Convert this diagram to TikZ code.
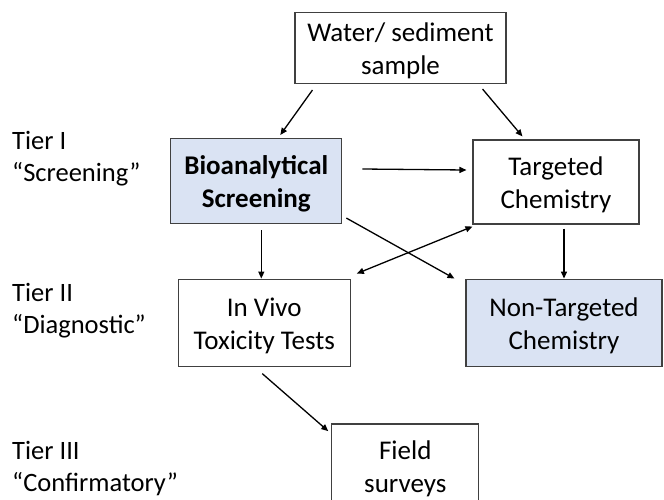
\documentclass[tikz,border=0pt]{standalone}
\usepackage{fontspec}
\setmainfont{Carlito}
\usetikzlibrary{arrows.meta}

\definecolor{boxblue}{HTML}{DAE3F3}
\definecolor{boxline}{HTML}{404040}

\begin{document}
\begin{tikzpicture}[x=1pt, y=-1pt,
    box/.style={draw=boxline, line width=1.1pt, align=center, inner sep=0pt,
        text height=53pt, text depth=0pt, font=\fontsize{27}{33}\selectfont},
    tier/.style={anchor=base west, align=left, inner sep=0pt,
        font=\fontsize{26.5}{32}\selectfont},
    flow/.style={-{Triangle[length=7pt, width=6pt]}, line width=1.3pt}]
    \clip (0,0) rectangle (664,499);

    % Tier labels on the left
    \node[tier] (tier1) at (12,181) {Tier I\\“Screening”};
    \node[tier] (tier2) at (12,333) {Tier II\\“Diagnostic”};
    \node[tier] (tier3) at (12,491.5) {Tier III\\“Confirmatory”};

    % Boxes of the scheme
    \node[box, minimum width=211pt, minimum height=71pt] (water) at (400.5,48) {Water/ sediment\\sample};
    \node[box, fill=boxblue, font=\fontsize{27}{33}\selectfont\bfseries,
        minimum width=171pt, minimum height=85pt] (bio) at (256.3,181) {Bioanalytical\\Screening};
    \node[box, minimum width=166pt, minimum height=84pt] (targ) at (556,182) {Targeted\\Chemistry};
    \node[box, minimum width=172pt, minimum height=87pt] (vivo) at (264.3,322.6) {In Vivo\\Toxicity Tests};
    \node[box, fill=boxblue, minimum width=196pt, minimum height=87pt] (nontarg) at (564,322.6) {Non-Targeted\\Chemistry};
    \node[box, minimum width=147pt, minimum height=84pt] (field) at (405.3,466) {Field\\surveys};

    % Arrows from the sample
    \draw[flow] ([xshift=18pt, yshift=-6pt]water.south west) -- ([xshift=24pt, yshift=3pt]bio.north);
    \draw[flow] ([xshift=-24pt, yshift=-5pt]water.south east) -- ([xshift=50pt, yshift=3pt]targ.north west);

    % Arrows of tier I
    \draw[flow] ([xshift=20pt, yshift=12pt]bio.east) -- ([xshift=-6pt, yshift=12pt]targ.west);
    \draw[flow] ([xshift=5pt, yshift=-6pt]bio.south) -- ([xshift=-3pt]vivo.north);
    \draw[flow] ([xshift=4pt, yshift=6pt]bio.south east) -- ([xshift=-11pt]nontarg.north west);
    \draw[flow, {Triangle[length=7pt, width=6pt]}-{Triangle[length=7pt, width=6pt]}] ([yshift=-2pt]targ.south west) -- ([xshift=6pt, yshift=5pt]vivo.north east);
    \draw[flow] ([xshift=8pt, yshift=-4pt]targ.south) -- (nontarg.north);

    % Arrow to tier III
    \draw[flow] ([xshift=-2pt, yshift=-7pt]vivo.south) -- ([xshift=-3pt, yshift=-7.7pt]field.north west);
\end{tikzpicture}
\end{document}
